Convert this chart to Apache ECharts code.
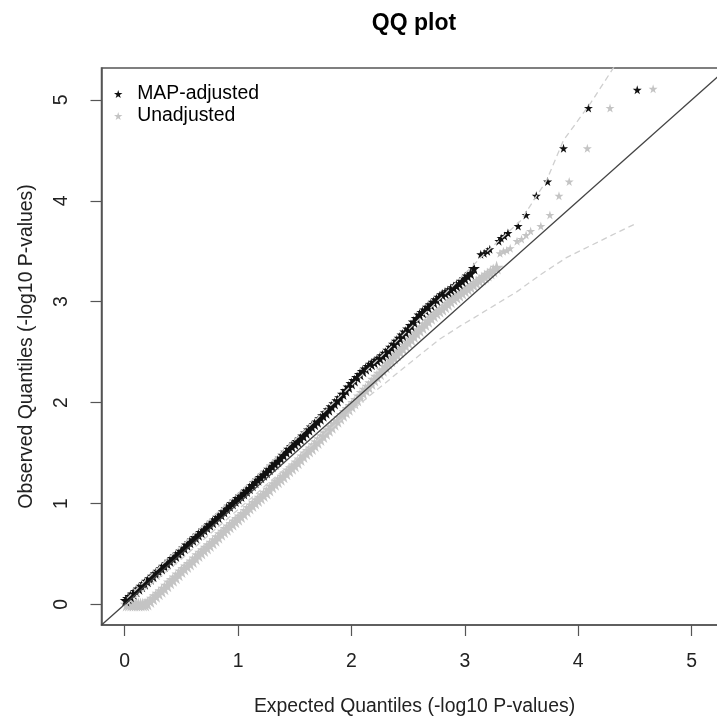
<!DOCTYPE html>
<html>
<head>
<meta charset="utf-8">
<script src="https://cdn.jsdelivr.net/npm/echarts@6/dist/echarts.min.js"></script>
<style>html,body{margin:0;padding:0;background:#fff}#c{width:717px;height:717px}</style>
</head>
<body>
<div id="c"></div>
<script>
// ---- data ----
const xTicks = [0, 1, 2, 3, 4, 5];
const yTicks = [0, 1, 2, 3, 4, 5];
const axisRange = [-0.204, 5.316];

// MAP-adjusted: [expected, observed]
const mapPoints = [
[0.01,0.04],[0.03,0.06],[0.05,0.08],[0.075,0.105],[0.10,0.13],[0.125,0.155],[0.15,0.18],[0.175,0.205],
[0.20,0.23],[0.225,0.255],[0.25,0.28],[0.275,0.305],[0.30,0.33],[0.325,0.355],[0.35,0.38],[0.375,0.405],
[0.40,0.43],[0.425,0.455],[0.45,0.48],[0.475,0.505],[0.50,0.53],[0.525,0.56],[0.55,0.59],[0.575,0.615],
[0.60,0.64],[0.625,0.665],[0.65,0.69],[0.675,0.715],[0.70,0.74],[0.725,0.765],[0.75,0.79],[0.775,0.815],
[0.80,0.84],[0.825,0.865],[0.85,0.89],[0.875,0.92],[0.90,0.95],[0.925,0.975],[0.95,1.00],[0.975,1.025],
[1.00,1.05],[1.025,1.075],[1.05,1.10],[1.075,1.125],[1.10,1.15],[1.125,1.18],[1.15,1.21],[1.175,1.235],
[1.20,1.26],[1.225,1.285],[1.25,1.31],[1.275,1.34],[1.30,1.37],[1.325,1.395],[1.35,1.42],[1.375,1.45],
[1.40,1.48],[1.425,1.51],[1.45,1.54],[1.475,1.565],[1.50,1.59],[1.525,1.615],[1.55,1.64],[1.575,1.67],
[1.60,1.70],[1.625,1.73],[1.65,1.76],[1.675,1.785],[1.70,1.81],[1.725,1.84],[1.75,1.87],[1.775,1.90],
[1.80,1.93],[1.825,1.96],[1.85,1.99],[1.875,2.02],[1.90,2.05],[1.925,2.085],[1.95,2.12],[1.975,2.155],
[2.00,2.19],[2.025,2.22],[2.05,2.25],[2.075,2.28],[2.10,2.31],[2.125,2.335],[2.15,2.36],[2.175,2.38],
[2.20,2.40],[2.225,2.42],[2.25,2.44],[2.275,2.465],[2.30,2.49],[2.325,2.52],[2.35,2.55],[2.375,2.58],
[2.40,2.61],[2.425,2.64],[2.45,2.67],[2.475,2.70],[2.50,2.73],[2.525,2.765],[2.55,2.80],[2.575,2.835],
[2.60,2.87],[2.625,2.895],[2.65,2.92],[2.675,2.945],[2.70,2.97],[2.725,2.995],[2.75,3.02],[2.775,3.045],
[2.80,3.07],[2.825,3.085],[2.85,3.10],[2.875,3.12],[2.90,3.14],[2.925,3.16],[2.95,3.18],[2.975,3.205],
[3.00,3.23],[3.025,3.255],[3.05,3.28],[3.08,3.33],
[3.14,3.47],[3.17,3.48],[3.20,3.50],[3.22,3.52],[3.30,3.60],[3.32,3.63],[3.35,3.65],[3.38,3.68],
[3.47,3.75],[3.54,3.86],[3.63,4.05],[3.73,4.19],[3.87,4.52],[4.09,4.92],[4.52,5.10]
];

// Unadjusted: [expected, observed]
const unadjPoints = [
[0.02,0.00],[0.04,0.00],[0.06,0.00],[0.08,0.00],[0.10,0.00],[0.12,0.00],[0.14,0.00],[0.16,0.00],[0.18,0.00],
[0.20,0.01],[0.225,0.035],[0.25,0.06],[0.275,0.085],[0.30,0.11],[0.325,0.135],[0.35,0.16],[0.375,0.19],
[0.40,0.22],[0.425,0.245],[0.45,0.27],[0.475,0.30],[0.50,0.33],[0.525,0.355],[0.55,0.38],[0.575,0.405],
[0.60,0.43],[0.625,0.46],[0.65,0.49],[0.675,0.515],[0.70,0.54],[0.725,0.565],[0.75,0.59],[0.775,0.615],
[0.80,0.64],[0.825,0.67],[0.85,0.70],[0.875,0.725],[0.90,0.75],[0.925,0.775],[0.95,0.80],[0.975,0.825],
[1.00,0.85],[1.025,0.875],[1.05,0.90],[1.075,0.93],[1.10,0.96],[1.125,0.985],[1.15,1.01],[1.175,1.035],
[1.20,1.06],[1.225,1.085],[1.25,1.11],[1.275,1.14],[1.30,1.17],[1.325,1.195],[1.35,1.22],[1.375,1.245],
[1.40,1.27],[1.425,1.30],[1.45,1.33],[1.475,1.355],[1.50,1.38],[1.525,1.41],[1.55,1.44],[1.575,1.47],
[1.60,1.50],[1.625,1.525],[1.65,1.55],[1.675,1.58],[1.70,1.61],[1.725,1.64],[1.75,1.67],[1.775,1.70],
[1.80,1.73],[1.825,1.76],[1.85,1.79],[1.875,1.82],[1.90,1.85],[1.925,1.88],[1.95,1.91],[1.975,1.94],
[2.00,1.97],[2.025,2.00],[2.05,2.03],[2.075,2.065],[2.10,2.10],[2.125,2.13],[2.15,2.16],[2.175,2.195],
[2.20,2.23],[2.225,2.26],[2.25,2.29],[2.275,2.325],[2.30,2.36],[2.325,2.39],[2.35,2.42],[2.375,2.45],
[2.40,2.48],[2.425,2.51],[2.45,2.54],[2.475,2.57],[2.50,2.60],[2.525,2.63],[2.55,2.66],[2.575,2.69],
[2.60,2.72],[2.625,2.75],[2.65,2.78],[2.675,2.81],[2.70,2.84],[2.725,2.865],[2.75,2.89],[2.775,2.91],
[2.80,2.93],[2.825,2.955],[2.85,2.98],[2.875,3.005],[2.90,3.03],[2.925,3.05],[2.95,3.07],[2.975,3.09],
[3.00,3.11],[3.025,3.13],[3.05,3.15],[3.075,3.17],[3.10,3.19],[3.125,3.21],[3.15,3.23],[3.175,3.25],
[3.20,3.27],[3.225,3.29],[3.25,3.31],[3.28,3.34],
[3.31,3.48],[3.34,3.50],[3.37,3.51],[3.40,3.53],[3.46,3.60],[3.50,3.62],[3.54,3.66],[3.58,3.70],
[3.67,3.75],[3.75,3.86],[3.83,4.05],[3.92,4.19],[4.08,4.52],[4.28,4.92],[4.66,5.11]
];

// dashed confidence band
const upperPoints = [[0.02,0.06],[0.50,0.58],[1.00,1.10],[1.50,1.63],[2.00,2.17],[2.50,2.72],[2.80,3.05],[3.17,3.47],[3.49,3.80],[3.72,4.20],[3.87,4.60],[4.11,4.97],[4.30,5.30],[4.52,5.65]];
const lowerPoints = [[0.02,0.00],[0.50,0.45],[1.00,0.94],[1.50,1.43],[2.00,1.92],[2.25,2.15],[2.61,2.48],[2.78,2.63],[2.96,2.76],[3.08,2.84],[3.46,3.10],[3.67,3.27],[3.90,3.44],[4.37,3.70],[4.52,3.78]];

// y = x reference line
const diagPoints = [[-0.204,-0.204],[5.316,5.316]];

// ---- chart ----
const STAR = 'path://M50,0 L61,35 L98,35 L68,57 L79,91 L50,70 L21,91 L32,57 L2,35 L39,35 Z';
const FONT = '"Liberation Sans", Arial, sans-serif';
const AX = '#555';

const chart = echarts.init(document.getElementById('c'), null, {renderer: 'canvas'});
chart.setOption({
  animation: false,
  backgroundColor: '#fff',
  title: {
    text: 'QQ plot', left: 409, top: 7, textAlign: 'center',
    textStyle: {fontFamily: FONT, fontSize: 23, fontWeight: 'bold', color: '#000'}
  },
  legend: {
    orient: 'vertical', left: 109, top: 79, itemWidth: 28, itemHeight: 8, itemGap: 2,
    textStyle: {fontFamily: FONT, fontSize: 19.4, color: '#000', lineHeight: 20},
    data: [{name: 'MAP-adjusted', icon: STAR}, {name: 'Unadjusted', icon: STAR}]
  },
  grid: {
    left: 101.5, top: 68, width: 626, height: 557,
    show: true, borderColor: AX, borderWidth: 1.5,
    containLabel: false, outerBoundsMode: 'none'
  },
  xAxis: {
    type: 'value', min: axisRange[0], max: axisRange[1],
    name: 'Expected Quantiles (-log10 P-values)', nameLocation: 'middle', nameGap: 72,
    nameTextStyle: {fontFamily: FONT, fontSize: 19.4, color: '#222'},
    axisLine: {show: true, onZero: false, lineStyle: {color: AX, width: 1.5}},
    axisTick: {show: true, length: 11, customValues: xTicks, lineStyle: {color: AX, width: 1.2}},
    axisLabel: {customValues: xTicks, margin: 27, fontFamily: FONT, fontSize: 19.4, color: '#222'},
    splitLine: {show: false}
  },
  yAxis: {
    type: 'value', min: axisRange[0], max: axisRange[1],
    name: 'Observed Quantiles (-log10 P-values)', nameLocation: 'middle', nameGap: 65, nameRotate: 90,
    nameTextStyle: {fontFamily: FONT, fontSize: 19.4, color: '#222'},
    axisLine: {show: true, onZero: false, lineStyle: {color: AX, width: 1.5}},
    axisTick: {show: true, length: 11, customValues: yTicks, lineStyle: {color: AX, width: 1.2}},
    axisLabel: {customValues: yTicks, rotate: 90, margin: 30, fontFamily: FONT, fontSize: 19.4, color: '#222'},
    splitLine: {show: false}
  },
  series: [
    {
      name: 'Unadjusted', type: 'scatter', data: unadjPoints,
      symbol: STAR, symbolSize: (v) => (v[1] < 3.4 ? 14 : 9),
      itemStyle: {color: '#c4c4c4', opacity: 1}, z: 2
    },
    {
      name: 'MAP-adjusted', type: 'scatter', data: mapPoints,
      symbol: STAR, symbolSize: (v) => (v[1] < 3.4 ? 12 : 9),
      itemStyle: {color: '#111', opacity: 1}, z: 3
    },
    {
      name: 'upper', type: 'line', data: upperPoints, symbol: 'none', clip: true,
      lineStyle: {color: '#cfcfcf', width: 1.3, type: [6, 4]}, z: 4
    },
    {
      name: 'lower', type: 'line', data: lowerPoints, symbol: 'none', clip: true,
      lineStyle: {color: '#cfcfcf', width: 1.3, type: [6, 4]}, z: 4
    },
    {
      name: 'diag', type: 'line', data: diagPoints, symbol: 'none', clip: true,
      lineStyle: {color: '#444', width: 1.3}, z: 5
    }
  ]
});
</script>
</body>
</html>
